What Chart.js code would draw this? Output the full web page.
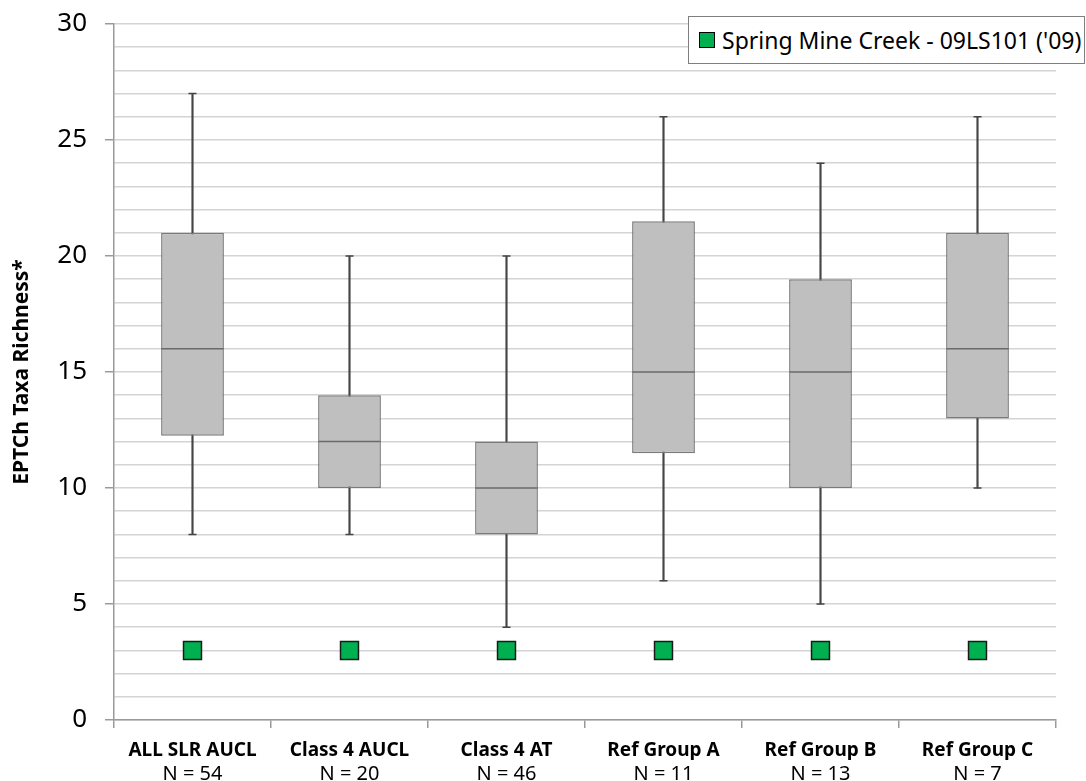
<!DOCTYPE html>
<html>
<head>
<meta charset="utf-8">
<script src="https://cdn.jsdelivr.net/npm/chart.js@4.4.1/dist/chart.umd.min.js"></script>
<style>
  html, body { margin: 0; padding: 0; background: #fff; }
  #wrap { position: relative; width: 1086px; height: 781px; }
  #legendBox {
    position: absolute; left: 688px; top: 16px; width: 397px; height: 48px;
    border: 1px solid #7f7f7f; background: #fff; box-sizing: border-box;
    font-family: "Noto Sans", sans-serif; font-size: 23px; color: #000;
    display: flex; align-items: center; white-space: nowrap;
  }
  #legendBox .swatch {
    display: inline-block; width: 14px; height: 14px; margin: 0 7px 0 10px;
    background: #00b050; border: 1px solid #000;
  }
</style>
</head>
<body>
<div id="wrap">
  <canvas id="boxChart" width="1086" height="781"></canvas>
  <div id="legendBox"><span class="swatch"></span><span id="legendText"></span></div>
</div>
<script>
// EPTCh taxa richness — box plots by group, with the site value overlaid

const categories = ["ALL SLR AUCL", "Class 4 AUCL", "Class 4 AT", "Ref Group A", "Ref Group B", "Ref Group C"];
const nLabels    = ["N = 54", "N = 20", "N = 46", "N = 11", "N = 13", "N = 7"];

const mins    = [8, 8, 4, 6, 5, 10];
const q1s     = [12.25, 10, 8, 11.5, 10, 13];
const medians = [16, 12, 10, 15, 15, 16];
const q3s     = [21, 14, 12, 21.5, 19, 21];
const maxs    = [27, 20, 20, 26, 24, 26];

const siteLabel  = "Spring Mine Creek - 09LS101 ('09)";
const siteValues = [3, 3, 3, 3, 3, 3];

const yTitle = "EPTCh Taxa Richness*";

document.getElementById("legendText").textContent = siteLabel;

const FONT = "'Noto Sans', sans-serif";
const gridColor = "#d4d4d4";
const axisColor = "#9a9a9a";

const whiskers = categories.map((c, i) => [mins[i], maxs[i]]);
const boxes    = categories.map((c, i) => [q1s[i], q3s[i]]);

const ctx = document.getElementById("boxChart").getContext("2d");
new Chart(ctx, {
  data: {
    labels: categories,
    datasets: [
      {
        type: "bar",
        label: "whisker",
        data: whiskers,
        backgroundColor: "#454545",
        barThickness: 1.5,
        grouped: false,
        order: 4,
      },
      {
        type: "line",
        label: "max",
        data: maxs,
        showLine: false,
        pointStyle: "line",
        pointRadius: 4,
        borderColor: "#454545",
        borderWidth: 1.5,
        order: 3,
      },
      {
        type: "line",
        label: "min",
        data: mins,
        showLine: false,
        pointStyle: "line",
        pointRadius: 4,
        borderColor: "#454545",
        borderWidth: 1.5,
        order: 3,
      },
      {
        type: "bar",
        label: "box",
        data: boxes,
        backgroundColor: "#bfbfbf",
        borderColor: "#7a7a7a",
        borderWidth: 1.5,
        borderSkipped: false,
        grouped: false,
        barPercentage: 0.4,
        categoryPercentage: 1,
        order: 2,
      },
      {
        type: "line",
        label: "median",
        data: medians,
        showLine: false,
        pointStyle: "line",
        pointRadius: 31,
        borderColor: "#6a6a6a",
        borderWidth: 1.5,
        order: 1,
      },
      {
        type: "line",
        label: siteLabel,
        data: siteValues,
        showLine: false,
        pointStyle: "rect",
        pointRadius: 12.7,
        backgroundColor: "#00b050",
        borderColor: "#1a1a1a",
        borderWidth: 1.5,
        order: 0,
      }
    ]
  },
  options: {
    responsive: false,
    animation: false,
    events: [],
    layout: { autoPadding: false, padding: { top: 24, right: 30, bottom: 0, left: 0 } },
    plugins: {
      legend: { display: false },
      tooltip: { enabled: false }
    },
    scales: {
      y: {
        min: 0,
        max: 30,
        afterFit: s => { s.width = 114; s.paddingTop = 0; s.paddingBottom = 0; },
        ticks: {
          stepSize: 1,
          autoSkip: false,
          padding: 18,
          color: "#000",
          font: { family: FONT, size: 26 },
          callback: v => (v % 5 === 0 ? v : "")
        },
        grid: {
          color: gridColor,
          lineWidth: 1.5,
          tickLength: 9,
          tickColor: c => (c.tick && c.tick.value % 5 === 0 ? axisColor : "rgba(0,0,0,0)")
        },
        border: { color: axisColor, width: 1.5 },
        title: {
          display: true,
          text: yTitle,
          color: "#000",
          font: { family: FONT, size: 21, weight: "bold" },
          padding: { top: 9, bottom: 0 }
        }
      },
      x: {
        position: "bottom",
        afterFit: s => { s.height = 40; },
        ticks: {
          color: "#000",
          padding: 11,
          maxRotation: 0,
          font: { family: FONT, size: 19, weight: "bold" }
        },
        grid: {
          offset: true,
          drawOnChartArea: false,
          tickLength: 8,
          color: axisColor,
          lineWidth: 1.5
        },
        border: { color: axisColor, width: 1.5 }
      },
      x2: {
        type: "category",
        position: "bottom",
        labels: nLabels,
        offset: true,
        afterFit: s => { s.height = 21; },
        ticks: {
          color: "#000",
          padding: 2,
          maxRotation: 0,
          font: { family: FONT, size: 20 }
        },
        grid: { display: false, drawTicks: false, offset: true },
        border: { display: false }
      }
    }
  }
});
</script>
</body>
</html>
